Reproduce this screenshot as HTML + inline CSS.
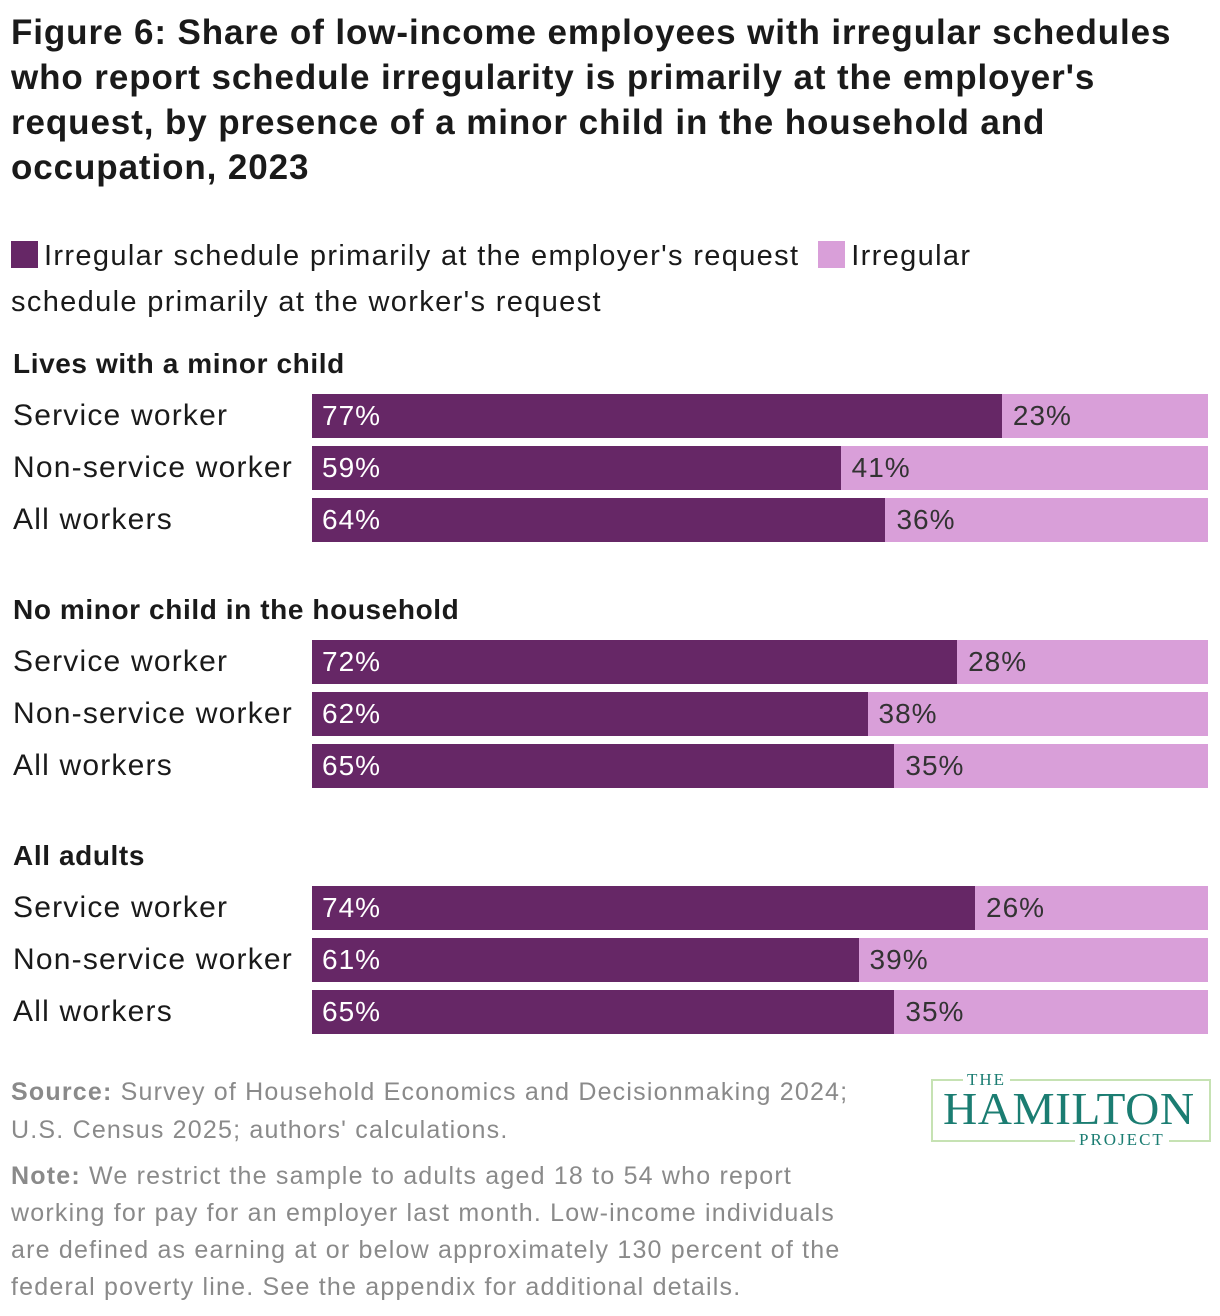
<!DOCTYPE html>
<html><head><meta charset="utf-8"><style>
body{margin:0;width:1220px;height:1316px;background:#fff;font-family:"Liberation Sans",sans-serif;color:#1a1a1a;position:relative;overflow:hidden}
.abs{position:absolute}
h1{position:absolute;left:11px;top:10px;margin:0;font-size:35px;line-height:45px;font-weight:bold;width:1190px;letter-spacing:0.9px}
.legend{left:11px;top:233px;font-size:29px;line-height:46px;width:1000px;letter-spacing:1.35px}
.sw{display:inline-block;width:27px;height:27px;vertical-align:-3px;margin-right:6px}
.grp{font-size:28px;font-weight:bold;left:13px;letter-spacing:0.6px}
.lbl{font-size:30px;left:13px;letter-spacing:1.2px}
.bv{font-size:28px;letter-spacing:1px}
.foot{left:11px;font-size:25px;line-height:38px;color:#8a8a8a;width:880px;letter-spacing:1.2px}
.foot b{color:#8a8a8a}
</style></head><body>
<h1>Figure 6: Share of low-income employees with irregular schedules who report schedule irregularity is primarily at the employer's request, by presence of a minor child in the household and occupation, 2023</h1>
<div class="abs legend"><span><span class="sw" style="background:#662766"></span>Irregular schedule primarily at the employer's request</span> &nbsp;<span><span class="sw" style="background:#d99fd9"></span>Irregular schedule primarily at the worker's request</span></div>
<div id="chart"></div>
<div class="abs foot" style="top:1073px"><b>Source:</b> Survey of Household Economics and Decisionmaking 2024; U.S. Census 2025; authors' calculations.</div>
<div class="abs foot" style="top:1158px;line-height:37px;width:860px"><b>Note:</b> We restrict the sample to adults aged 18 to 54 who report working for pay for an employer last month. Low-income individuals are defined as earning at or below approximately 130 percent of the federal poverty line. See the appendix for additional details.</div>
<div class="abs" style="left:931px;top:1079px;width:276px;height:59px;border:2px solid #c6e2b3;font-family:'Liberation Serif',serif;color:#1b7d72">
<div class="abs" style="left:30px;top:-10px;background:#fff;padding:0 4px;font-size:17px;letter-spacing:2px;line-height:18px">THE</div>
<div class="abs" style="left:10px;top:6px;font-size:46px;line-height:44px;letter-spacing:0.5px;transform:scaleX(1.03);transform-origin:left">HAMILTON</div>
<div class="abs" style="left:142px;top:50px;background:#fff;padding:0 4px;font-size:17px;letter-spacing:2px;line-height:18px">PROJECT</div>
</div>
<script>
const groups=["Lives with a minor child","No minor child in the household","All adults"];
const categories=["Service worker","Non-service worker","All workers"];
const employer=[[77,59,64],[72,62,65],[74,61,65]];
const worker=[[23,41,36],[28,38,35],[26,39,35]];
const X0=312,W=896,x=v=>X0+W*v/100;
const chart=document.getElementById('chart');
function mk(cls,css,txt){const d=document.createElement('div');d.className='abs '+cls;d.style.cssText=css;if(txt!=null)d.textContent=txt;chart.appendChild(d);return d;}
groups.forEach((g,gi)=>{
 const gy=348+gi*246;
 const gh=mk('grp','top:'+gy+'px',g);
 
 
 categories.forEach((c,ci)=>{
  const y=394+gi*246+ci*52;
  const l=mk('lbl','top:'+(y+5)+'px',c);
  
  
  const e=employer[gi][ci],w=worker[gi][ci];
  const b1=mk('','left:'+X0+'px;top:'+y+'px;width:'+(x(e)-X0)+'px;height:44px;background:#662766');
  
  
  const b2=mk('','left:'+x(e)+'px;top:'+y+'px;width:'+(x(e+w)-x(e))+'px;height:44px;background:#d99fd9');
  
  
  const t1=mk('bv','left:'+(X0+10)+'px;top:'+(y+6)+'px;color:#fff',e+'%');
  
  
  const t2=mk('bv','left:'+(x(e)+11)+'px;top:'+(y+6)+'px;color:#333',w+'%');
  
  
 });
});
</script>
</body></html>
